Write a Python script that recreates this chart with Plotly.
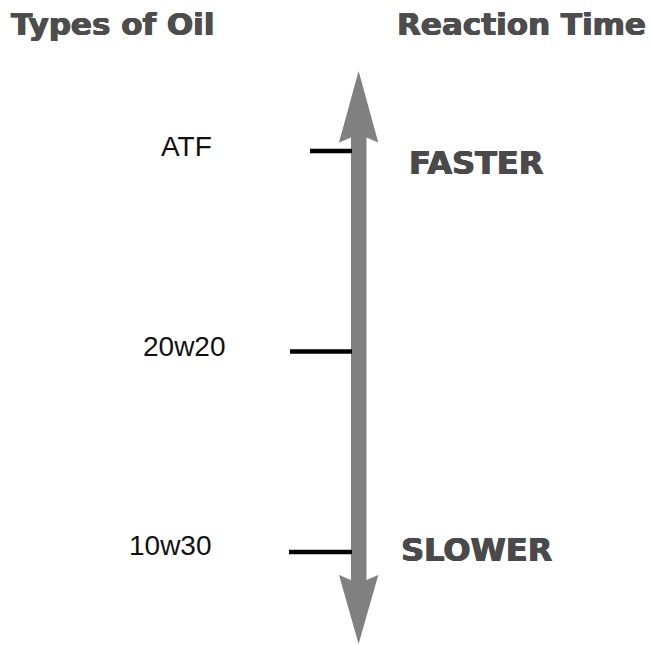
import plotly.graph_objects as go

# ---- data ----
oil_types = ["ATF", "20w20", "10w30"]
reaction_rank = [1, 2, 3]          # 1 = fastest, 3 = slowest
speed_labels = ["FASTER", "SLOWER"]
speed_rank = [1, 3]
left_title = "Types of Oil"
right_title = "Reaction Time"

# ---- styling / layout constants ----
W, H = 650, 645
Y_TOP, Y_BOT = 0.247, 3.4638      # axis range in rank units (top -> bottom)
tick_start = [310, 290, 289]      # left end (px) of each tick mark
tick_end = 352
label_x = [186.5, 184.5, 170]
label_dy = [-0.02, -0.025, -0.03]
speed_x = [476, 476]
speed_dy = [0.06, -0.01]
GRAY = "#808080"
HEAVY = "DejaVu Sans, Liberation Sans, sans-serif"
PLAIN = "Liberation Sans, Arial, sans-serif"

def thick(c):
    return f"0.7px 0 0 {c}, -0.5px 0 0 {c}, 0 0.4px 0 {c}"

def py(p):
    """pixel y -> rank units"""
    return Y_TOP + (Y_BOT - Y_TOP) * p / H

fig = go.Figure()

# tick marks for each oil
for name, r, xs in zip(oil_types, reaction_rank, tick_start):
    fig.add_trace(go.Scatter(x=[xs, tick_end], y=[r, r], mode="lines",
                             line=dict(color="black", width=4.5),
                             hoverinfo="skip", showlegend=False))

# double-headed arrow (decoration)
pts = [
    (358.6, 71), (378.3, 142.5), (366.5, 137.5), (366.5, 580), (378.3, 575),
    (358.6, 644), (339, 575), (351, 580), (351, 137.5), (339, 142.5),
]
path = "M " + " L ".join(f"{x},{py(y)}" for x, y in pts) + " Z"
fig.add_shape(type="path", path=path, xref="x", yref="y",
              fillcolor=GRAY, line=dict(width=0), layer="below")

# oil labels
for name, r, lx, dy in zip(oil_types, reaction_rank, label_x, label_dy):
    fig.add_annotation(x=lx, y=r + dy, text=name, showarrow=False,
                       xanchor="center", yanchor="middle",
                       font=dict(family=PLAIN, size=28, color="#111111"))

# speed labels
for name, r, sx, dy in zip(speed_labels, speed_rank, speed_x, speed_dy):
    fig.add_annotation(x=sx, y=r + dy, text=name, showarrow=False,
                       xanchor="center", yanchor="middle",
                       font=dict(family=HEAVY, size=32, color="#4a4a4a",
                                 weight="bold", shadow=thick("#4a4a4a")))

# titles
fig.add_annotation(x=9, y=py(24), text=left_title, showarrow=False,
                   xanchor="left", yanchor="middle",
                   font=dict(family=HEAVY, size=31, color="#4d4d4d",
                             weight="bold", shadow=thick("#4d4d4d")))
fig.add_annotation(x=648, y=py(24), text=right_title, showarrow=False,
                   xanchor="right", yanchor="middle",
                   font=dict(family=HEAVY, size=31, color="#4d4d4d",
                             weight="bold", shadow=thick("#4d4d4d")))

fig.update_layout(
    width=W, height=H,
    margin=dict(l=0, r=0, t=0, b=0),
    paper_bgcolor="white", plot_bgcolor="white",
    xaxis=dict(range=[0, W], visible=False, fixedrange=True),
    yaxis=dict(range=[Y_BOT, Y_TOP], visible=False, fixedrange=True),
    showlegend=False,
)

fig.write_html("out.html", post_script="document.body.style.margin='0';",
               config={"displayModeBar": False})
